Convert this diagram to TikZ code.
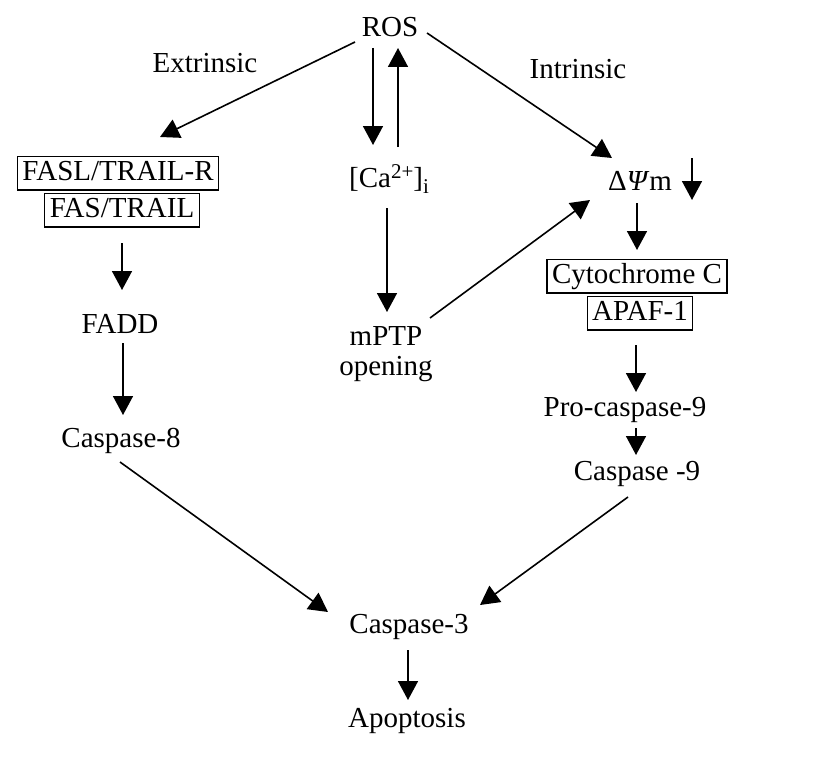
\documentclass[tikz,border=0pt]{standalone}
\usepackage{fontspec}
\setmainfont{Liberation Serif}
\usepackage{tikz}
\usetikzlibrary{arrows.meta,positioning,calc}

\begin{document}
\begin{tikzpicture}[x=1pt,y=-1pt,
  lbl/.style={font=\fontsize{29}{25}\selectfont,inner sep=5pt,
    text height=20pt,text depth=6.5pt,anchor=base},
  boxed/.style={lbl,draw,line width=1.3pt,inner xsep=5pt,inner ysep=3.5pt},
  arr/.style={line width=1.6pt,-{Triangle[length=19pt,width=20pt]}}]
\useasboundingbox (0,0) rectangle (819,760);
% top
\node[lbl] (ros) at (390,37) {ROS};
\node[lbl] (extr) at (205,73) {Extrinsic};
\node[lbl] (intr) at (578,78) {Intrinsic};
% extrinsic branch
\node[boxed] (fasl) at (118,180) {FASL/TRAIL-R};
\node[boxed] (fas) at (122,217) {FAS/TRAIL};
\node[lbl] (fadd) at (120,333) {FADD};
\node[lbl] (casp8) at (121,447) {Caspase-8};
% calcium branch
\node[lbl] (ca) at (389,187)
  {[Ca\raisebox{9pt}{\fontsize{21}{21}\selectfont 2+}]\raisebox{-6pt}{\fontsize{21}{21}\selectfont i}};
\node[font=\fontsize{29}{25}\selectfont,align=center,inner sep=0pt,anchor=north]
  (mptp) at (386,326) {mPTP\\[5pt]opening};
% intrinsic branch
\node[lbl] (dpsi) at (640,190) {Δ\textit{Ψ}m};
\node[boxed] (cyto) at (637,283) {Cytochrome C};
\node[boxed] (apaf) at (640,320) {APAF-1};
\node[lbl] (pro) at (625,416) {Pro-caspase-9};
\node[lbl] (casp9) at (637,480) {Caspase -9};
% common end
\node[lbl] (casp3) at (409,633) {Caspase-3};
\node[lbl] (apop) at (407,727) {Apoptosis};

\draw[arr] ($(ros.base)+(-35,5)$) -- ($(fasl.base)+(42,-43)$);
\draw[arr] ($(ros.base)+(37,-4)$) -- ($(dpsi.base)+(-28,-32)$);
\draw[arr] ($(ros.base)+(-17,11)$) -- ($(ca.base)+(-16,-42)$);
\draw[arr] ($(ca.base)+(9,-40)$) -- ($(ros.base)+(8,11)$);
\draw[arr] ($(ca.base)+(-2,21)$) -- ($(mptp.north)+(1,-14)$);
\draw[arr] ($(mptp.north)+(44,-8)$) -- ($(dpsi.base)+(-50,10)$);
\draw[arr] ($(dpsi.base)+(52,-32)$) -- ($(dpsi.base)+(52,10)$);
\draw[arr] ($(dpsi.base)+(-3,13)$) -- ($(cyto.base)+(0,-33)$);
\draw[arr] ($(apaf.base)+(-4,25)$) -- ($(pro.base)+(11,-24)$);
\draw[arr] ($(pro.base)+(11,12)$) -- ($(casp9.base)+(-1,-25)$);
\draw[arr] ($(fas.base)+(0,26)$) -- ($(fadd.base)+(2,-43)$);
\draw[arr] ($(fadd.base)+(3,10)$) -- ($(casp8.base)+(2,-32)$);
\draw[arr] ($(casp8.base)+(-1,15)$) -- ($(casp3.base)+(-81,-21)$);
\draw[arr] ($(casp9.base)+(-9,17)$) -- ($(casp3.base)+(71,-28)$);
\draw[arr] ($(casp3.base)+(-1,17)$) -- ($(apop.base)+(1,-27)$);
\end{tikzpicture}
\end{document}
